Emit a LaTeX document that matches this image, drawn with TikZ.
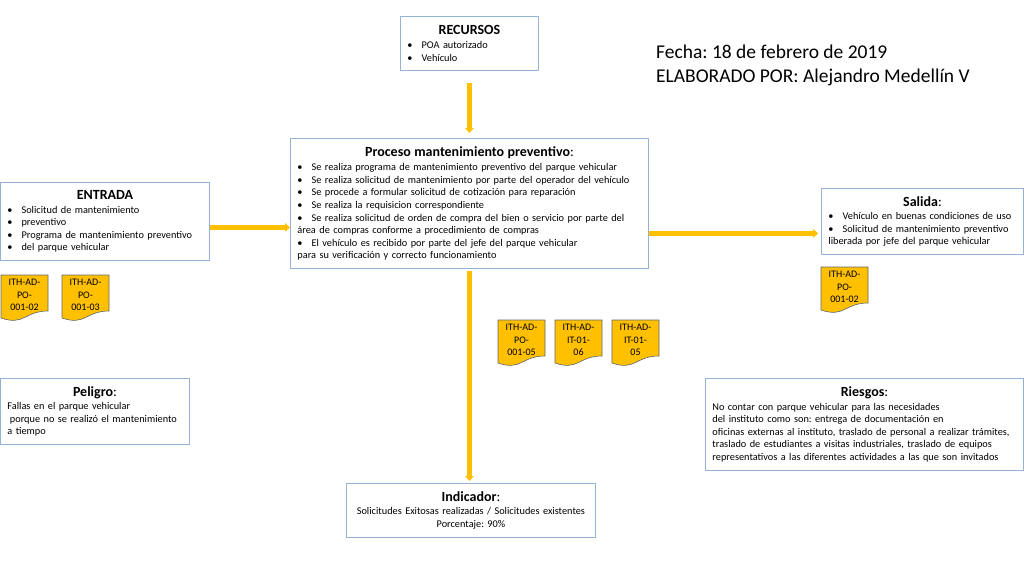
\documentclass[tikz,border=0pt]{standalone}
\usepackage{fontspec}
\setmainfont{Carlito}
\usepackage{tikz}
\usetikzlibrary{arrows.meta, calc}
\frenchspacing
\definecolor{boxline}{HTML}{95B3D7}
\definecolor{flowc}{HTML}{FFC000}
\definecolor{sheetline}{HTML}{5F6670}
\newcommand{\bul}{\textbullet\hspace{9pt}} % bullet of a list line
\newcommand{\ttl}[1]{\makebox[\linewidth]{\fontsize{14}{17}\selectfont #1}} % centred box title
\newcommand{\sheet}[3]{% #1 top left corner, #2 name, #3 text
  \filldraw[sheetshape] (#1) -- ($(#1)+(47,0)$) -- ($(#1)+(47,36)$)
    .. controls ($(#1)+(23.5,36)$) and ($(#1)+(23.5,51)$) .. ($(#1)+(0,43)$) -- cycle;
  \node[sheettext] (#2) at ($(#1)+(23.5,20)$) {#3};}
\tikzset{x=1pt, y=-1pt, % one unit is one pixel of the sheet, y runs down
every node/.style={font=\fontsize{10.3}{12.6}\selectfont},
box/.style={ % white boxes with a blue frame
draw=boxline, line width=0.9pt, fill=white,
anchor=north west, align=left,
inner xsep=7pt, inner ysep=3pt},
sheettext/.style={ % text on the yellow sheets
align=center, inner sep=0pt, font=\fontsize{10}{12.4}\selectfont},
sheetshape/.style={fill=flowc, draw=sheetline, line width=0.6pt},
every edge/.style={ % yellow flow arrows
draw=flowc, line width=4.5pt, -{Triangle[width=8.5pt,length=5pt]}}}
\begin{document}
\begin{tikzpicture}
    \useasboundingbox (0,0) rectangle (1024,576);

    \node[box, text width=124, minimum height=54] (recursos) at (400,16)
        {\ttl{\textbf{RECURSOS}}\\[1pt]
         \bul POA autorizado\\
         \bul Vehículo};
    \node[box, text width=344, minimum height=130] (proceso) at (290,138)
        {\ttl{\textbf{Proceso mantenimiento preventivo}:}\\[2pt]
         \bul Se realiza programa de mantenimiento preventivo del parque vehicular\\
         \bul Se realiza solicitud de mantenimiento  por parte  del operador del vehículo\\
         \bul Se procede a formular solicitud de cotización para reparación\\
         \bul Se realiza la requisicion correspondiente\\
         \bul Se realiza solicitud de orden de compra del bien o servicio por parte del\\
         área de compras conforme a procedimiento de compras\\
         \bul El vehículo es recibido por parte del jefe del parque vehicular\\
         para su verificación y correcto funcionamiento};
    \node[box, text width=195, minimum height=78] (entrada) at (0,182)
        {\ttl{\textbf{ENTRADA}}\\[1pt]
         \bul Solicitud de mantenimiento\\
         \bul preventivo\\
         \bul Programa de mantenimiento preventivo\\
         \bul del parque vehicular};
    \node[box, text width=188, minimum height=66] (salida) at (821,188)
        {\ttl{\textbf{Salida}:}\\[1pt]
         \bul Vehículo en buenas condiciones de uso\\
         \bul Solicitud de mantenimiento preventivo\\
         liberada por jefe del parque vehicular};
    \node[box, text width=175, minimum height=66] (peligro) at (0,378)
        {\ttl{\textbf{Peligro}:}\\[1pt]
         Fallas en el parque vehicular\\
         \hspace{2.5pt}porque no se realizó el mantenimiento\\
         a tiempo};
    \node[box, text width=304, minimum height=92] (riesgos) at (705,378)
        {\ttl{\textbf{Riesgos}:}\\[1pt]
         No contar con parque vehicular para las necesidades\\
         del instituto como son: entrega de documentación en\\
         oficinas externas al instituto, traslado de personal a realizar trámites,\\
         traslado de estudiantes a visitas industriales, traslado de equipos\\
         representativos a las diferentes actividades a las que son invitados};
    \node[box, align=center, text width=235, minimum height=54] (indicador) at (346,483)
        {\ttl{\textbf{Indicador}:}\\[1pt]
         Solicitudes Exitosas realizadas / Solicitudes existentes\\
         Porcentaje: 90\%};

    \node[anchor=north west, align=left, inner sep=0pt,
          font=\fontsize{19.5}{24}\selectfont] (fecha) at (656,45)
        {Fecha: 18 de febrero de 2019\\
         ELABORADO POR: Alejandro Medellín V};

    \sheet{1,275}{d1}{ITH-AD-\\PO-\\001-02}
    \sheet{62,275}{d2}{ITH-AD-\\PO-\\001-03}
    \sheet{821,267}{d3}{ITH-AD-\\PO-\\001-02}
    \sheet{498,320}{d4}{ITH-AD-\\PO-\\001-05}
    \sheet{555,320}{d5}{ITH-AD-\\IT-01-\\06}
    \sheet{612,320}{d6}{ITH-AD-\\IT-01-\\05}

    \coordinate (ein) at ([yshift=-6pt]entrada.east);
    \coordinate (pout) at ([yshift=-30pt]proceso.east);

    \draw (recursos.south) edge[shorten <=12pt, shorten >=5pt] (proceso.north);
    \draw (ein) edge (ein -| proceso.west);
    \draw (pout) edge[shorten >=3pt] (pout -| salida.west);
    \draw (proceso.south) edge[shorten <=2pt, shorten >=2pt] (proceso.south |- indicador.north);

\end{tikzpicture}
\end{document}
